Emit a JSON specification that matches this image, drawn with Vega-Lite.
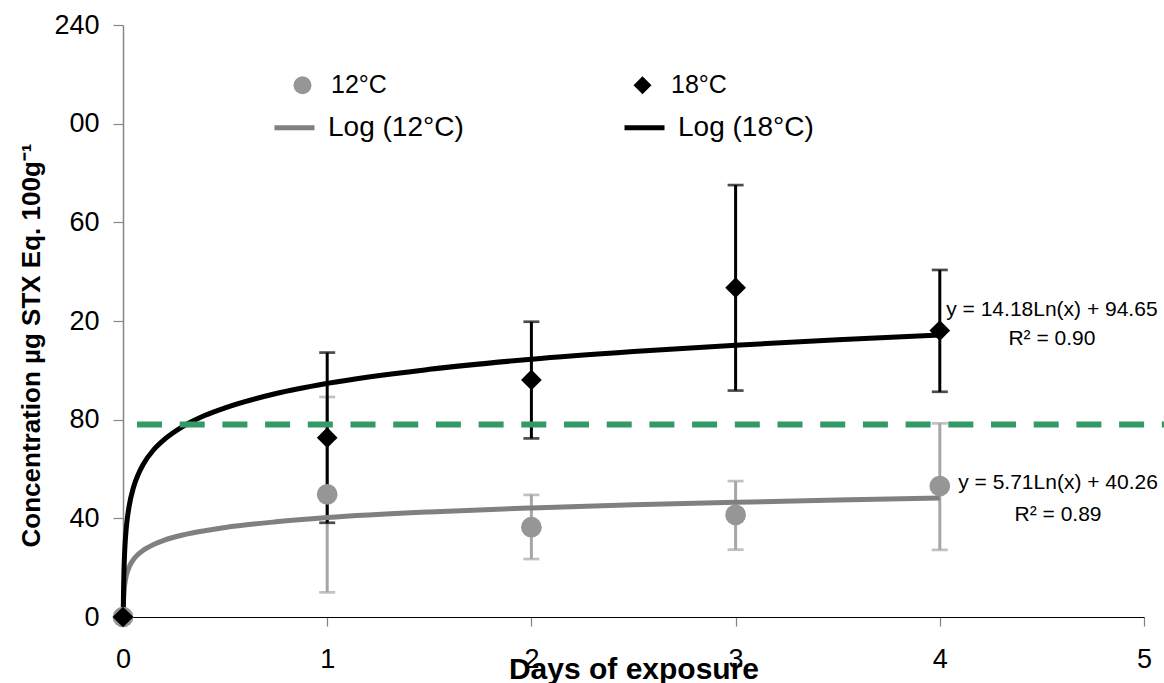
{
  "$schema": "https://vega.github.io/schema/vega-lite/v6.json",
  "width": 1021,
  "height": 592,
  "autosize": {"type": "none"},
  "padding": {"left": 123, "top": 25, "right": 20, "bottom": 66},
  "background": "white",
  "config": {
    "view": {"stroke": null},
    "font": "Liberation Sans",
    "axis": {"grid": false, "labelFont": "Liberation Sans", "titleFont": "Liberation Sans", "labelColor": "#000000", "titleColor": "#000000"},
    "legend": {"labelFont": "Liberation Sans", "labelColor": "#000000", "padding": 0, "title": null}
  },
  "datasets": {
    "obs": [
      {"day": 0, "conc": 0, "lo": null, "hi": null, "series": "12°C"},
      {"day": 1, "conc": 49.7, "lo": 10.0, "hi": 89.2, "series": "12°C"},
      {"day": 2, "conc": 36.4, "lo": 23.5, "hi": 49.5, "series": "12°C"},
      {"day": 3, "conc": 41.4, "lo": 27.3, "hi": 55.1, "series": "12°C"},
      {"day": 4, "conc": 53.1, "lo": 27.2, "hi": 78.5, "series": "12°C"},
      {"day": 0, "conc": 0, "lo": null, "hi": null, "series": "18°C"},
      {"day": 1, "conc": 72.7, "lo": 38.2, "hi": 107.2, "series": "18°C"},
      {"day": 2, "conc": 96.1, "lo": 72.4, "hi": 119.7, "series": "18°C"},
      {"day": 3, "conc": 133.5, "lo": 91.8, "hi": 175.1, "series": "18°C"},
      {"day": 4, "conc": 116.1, "lo": 91.3, "hi": 140.7, "series": "18°C"}
    ],
    "trend": [
      {"day": 0.0009, "conc": 0.2, "trend": "Log (12°C)"},
      {"day": 0.0013, "conc": 2.3, "trend": "Log (12°C)"},
      {"day": 0.002, "conc": 4.8, "trend": "Log (12°C)"},
      {"day": 0.003, "conc": 7.1, "trend": "Log (12°C)"},
      {"day": 0.005, "conc": 10.0, "trend": "Log (12°C)"},
      {"day": 0.0075, "conc": 12.3, "trend": "Log (12°C)"},
      {"day": 0.01, "conc": 14.0, "trend": "Log (12°C)"},
      {"day": 0.015, "conc": 16.3, "trend": "Log (12°C)"},
      {"day": 0.02, "conc": 17.9, "trend": "Log (12°C)"},
      {"day": 0.03, "conc": 20.2, "trend": "Log (12°C)"},
      {"day": 0.05, "conc": 23.2, "trend": "Log (12°C)"},
      {"day": 0.075, "conc": 25.5, "trend": "Log (12°C)"},
      {"day": 0.1, "conc": 27.1, "trend": "Log (12°C)"},
      {"day": 0.15, "conc": 29.4, "trend": "Log (12°C)"},
      {"day": 0.2, "conc": 31.1, "trend": "Log (12°C)"},
      {"day": 0.3, "conc": 33.4, "trend": "Log (12°C)"},
      {"day": 0.4, "conc": 35.0, "trend": "Log (12°C)"},
      {"day": 0.5, "conc": 36.3, "trend": "Log (12°C)"},
      {"day": 0.75, "conc": 38.6, "trend": "Log (12°C)"},
      {"day": 1, "conc": 40.3, "trend": "Log (12°C)"},
      {"day": 1.5, "conc": 42.6, "trend": "Log (12°C)"},
      {"day": 2, "conc": 44.2, "trend": "Log (12°C)"},
      {"day": 2.5, "conc": 45.5, "trend": "Log (12°C)"},
      {"day": 3, "conc": 46.5, "trend": "Log (12°C)"},
      {"day": 3.5, "conc": 47.4, "trend": "Log (12°C)"},
      {"day": 4, "conc": 48.2, "trend": "Log (12°C)"},
      {"day": 0.0013, "conc": 0.4, "trend": "Log (18°C)"},
      {"day": 0.002, "conc": 6.5, "trend": "Log (18°C)"},
      {"day": 0.003, "conc": 12.3, "trend": "Log (18°C)"},
      {"day": 0.005, "conc": 19.5, "trend": "Log (18°C)"},
      {"day": 0.0075, "conc": 25.3, "trend": "Log (18°C)"},
      {"day": 0.01, "conc": 29.4, "trend": "Log (18°C)"},
      {"day": 0.015, "conc": 35.1, "trend": "Log (18°C)"},
      {"day": 0.02, "conc": 39.2, "trend": "Log (18°C)"},
      {"day": 0.03, "conc": 44.9, "trend": "Log (18°C)"},
      {"day": 0.05, "conc": 52.2, "trend": "Log (18°C)"},
      {"day": 0.075, "conc": 57.9, "trend": "Log (18°C)"},
      {"day": 0.1, "conc": 62.0, "trend": "Log (18°C)"},
      {"day": 0.15, "conc": 67.8, "trend": "Log (18°C)"},
      {"day": 0.2, "conc": 71.8, "trend": "Log (18°C)"},
      {"day": 0.3, "conc": 77.6, "trend": "Log (18°C)"},
      {"day": 0.4, "conc": 81.7, "trend": "Log (18°C)"},
      {"day": 0.5, "conc": 84.8, "trend": "Log (18°C)"},
      {"day": 0.75, "conc": 90.6, "trend": "Log (18°C)"},
      {"day": 1, "conc": 94.7, "trend": "Log (18°C)"},
      {"day": 1.5, "conc": 100.4, "trend": "Log (18°C)"},
      {"day": 2, "conc": 104.5, "trend": "Log (18°C)"},
      {"day": 2.5, "conc": 107.6, "trend": "Log (18°C)"},
      {"day": 3, "conc": 110.2, "trend": "Log (18°C)"},
      {"day": 3.5, "conc": 112.4, "trend": "Log (18°C)"},
      {"day": 4, "conc": 114.3, "trend": "Log (18°C)"}
    ],
    "notes": [
      {"day": 4.549, "conc": 124.5, "label": "y = 14.18Ln(x) + 94.65"},
      {"day": 4.549, "conc": 112.7, "label": "R² = 0.90"},
      {"day": 4.579, "conc": 54.3, "label": "y = 5.71Ln(x) + 40.26"},
      {"day": 4.579, "conc": 41.4, "label": "R² = 0.89"}
    ],
    "limit": [{"limit": 78}]
  },
  "layer": [
    {
      "data": {"name": "obs"},
      "transform": [{"filter": "datum.series == '12°C' && datum.lo != null"}],
      "mark": {"type": "rule", "color": "#a6a6a6", "strokeWidth": 3},
      "encoding": {
        "x": {
          "field": "day", "type": "quantitative",
          "scale": {"domain": [0, 5], "nice": false, "zero": false},
          "axis": {
            "title": "Days of exposure", "values": [0, 1, 2, 3, 4, 5], "format": "d",
            "labelFlush": false, "labelOverlap": false,
            "domainColor": "#000000", "domainWidth": 1.2,
            "tickColor": "#808080", "tickSize": 9, "tickWidth": 1.2,
            "labelFontSize": 27, "labelPadding": 20,
            "titleFontSize": 30, "titleFontWeight": "bold", "titleY": 61, "titleBaseline": "alphabetic"
          }
        },
        "y": {
          "field": "lo", "type": "quantitative",
          "scale": {"domain": [0, 240], "nice": false},
          "axis": {
            "title": "Concentration µg STX Eq. 100g⁻¹", "values": [0, 40, 80, 120, 160, 200, 240],
            "labelExpr": "datum.value == 120 ? '20' : datum.value == 160 ? '60' : datum.value == 200 ? '00' : datum.label",
            "domainColor": "#868686", "domainWidth": 1.5,
            "tickColor": "#868686", "tickSize": 10, "tickWidth": 1.2,
            "labelFontSize": 27, "labelPadding": 14,
            "titleFontSize": 26, "titleFontWeight": "bold", "titleX": -92, "titleY": 320, "titleBaseline": "middle", "titleAlign": "center"
          }
        },
        "y2": {"field": "hi"}
      }
    },
    {
      "data": {"name": "obs"},
      "transform": [
        {"filter": "datum.series == '12°C' && datum.lo != null"},
        {"fold": ["lo", "hi"], "as": ["end", "val"]}
      ],
      "mark": {"type": "tick", "orient": "horizontal", "color": "#a6a6a6", "size": 16, "thickness": 2.7},
      "encoding": {
        "x": {"field": "day", "type": "quantitative", "scale": {"domain": [0, 5], "nice": false, "zero": false}},
        "y": {"field": "val", "type": "quantitative", "scale": {"domain": [0, 240], "nice": false}}
      }
    },
    {
      "data": {"name": "obs"},
      "transform": [{"filter": "datum.series == '18°C' && datum.lo != null"}],
      "mark": {"type": "rule", "color": "#000000", "strokeWidth": 3},
      "encoding": {
        "x": {"field": "day", "type": "quantitative", "scale": {"domain": [0, 5], "nice": false, "zero": false}},
        "y": {"field": "lo", "type": "quantitative", "scale": {"domain": [0, 240], "nice": false}},
        "y2": {"field": "hi"}
      }
    },
    {
      "data": {"name": "obs"},
      "transform": [
        {"filter": "datum.series == '18°C' && datum.lo != null"},
        {"fold": ["lo", "hi"], "as": ["end", "val"]}
      ],
      "mark": {"type": "tick", "orient": "horizontal", "color": "#000000", "size": 16, "thickness": 2.7},
      "encoding": {
        "x": {"field": "day", "type": "quantitative", "scale": {"domain": [0, 5], "nice": false, "zero": false}},
        "y": {"field": "val", "type": "quantitative", "scale": {"domain": [0, 240], "nice": false}}
      }
    },
    {
      "data": {"name": "trend"},
      "mark": {"type": "line", "strokeWidth": 5, "interpolate": "monotone"},
      "encoding": {
        "x": {"field": "day", "type": "quantitative", "scale": {"domain": [0, 5], "nice": false, "zero": false}},
        "y": {"field": "conc", "type": "quantitative", "scale": {"domain": [0, 240], "nice": false}},
        "stroke": {
          "field": "trend", "type": "nominal",
          "scale": {"domain": ["Log (12°C)", "Log (18°C)"], "range": ["#808080", "#000000"]},
          "legend": {
            "orient": "none", "legendX": 149, "legendY": 80, "direction": "horizontal",
            "symbolType": "stroke", "symbolSize": 1600, "symbolStrokeWidth": 5,
            "labelFontSize": 28, "labelOffset": 11, "columnPadding": 150, "title": null
          }
        }
      }
    },
    {
      "data": {"name": "limit"},
      "mark": {"type": "rule", "color": "#339966", "strokeWidth": 6, "strokeDash": [25, 17.7]},
      "encoding": {
        "x": {"datum": 0.0686, "type": "quantitative", "scale": {"domain": [0, 5], "nice": false, "zero": false}},
        "x2": {"datum": 5.2},
        "y": {"field": "limit", "type": "quantitative", "scale": {"domain": [0, 240], "nice": false}}
      }
    },
    {
      "data": {"name": "obs"},
      "mark": {"type": "point", "filled": true, "opacity": 1, "size": 430},
      "encoding": {
        "x": {"field": "day", "type": "quantitative", "scale": {"domain": [0, 5], "nice": false, "zero": false}},
        "y": {"field": "conc", "type": "quantitative", "scale": {"domain": [0, 240], "nice": false}},
        "color": {
          "field": "series", "type": "nominal",
          "scale": {"domain": ["12°C", "18°C"], "range": ["#969696", "#000000"]},
          "legend": {
            "orient": "none", "legendX": 167, "legendY": 47.5, "direction": "horizontal",
            "symbolSize": 324, "labelFontSize": 25, "labelOffset": 16, "columnPadding": 243, "title": null
          }
        },
        "shape": {
          "field": "series", "type": "nominal",
          "scale": {"domain": ["12°C", "18°C"], "range": ["circle", "diamond"]},
          "legend": {
            "orient": "none", "legendX": 167, "legendY": 47.5, "direction": "horizontal",
            "symbolSize": 324, "labelFontSize": 25, "labelOffset": 16, "columnPadding": 243, "title": null
          }
        }
      }
    },
    {
      "data": {"name": "notes"},
      "mark": {"type": "text", "fontSize": 21, "align": "center", "baseline": "middle", "color": "#000000", "font": "Liberation Sans"},
      "encoding": {
        "x": {"field": "day", "type": "quantitative", "scale": {"domain": [0, 5], "nice": false, "zero": false}},
        "y": {"field": "conc", "type": "quantitative", "scale": {"domain": [0, 240], "nice": false}},
        "text": {"field": "label", "type": "nominal"}
      }
    }
  ]
}
